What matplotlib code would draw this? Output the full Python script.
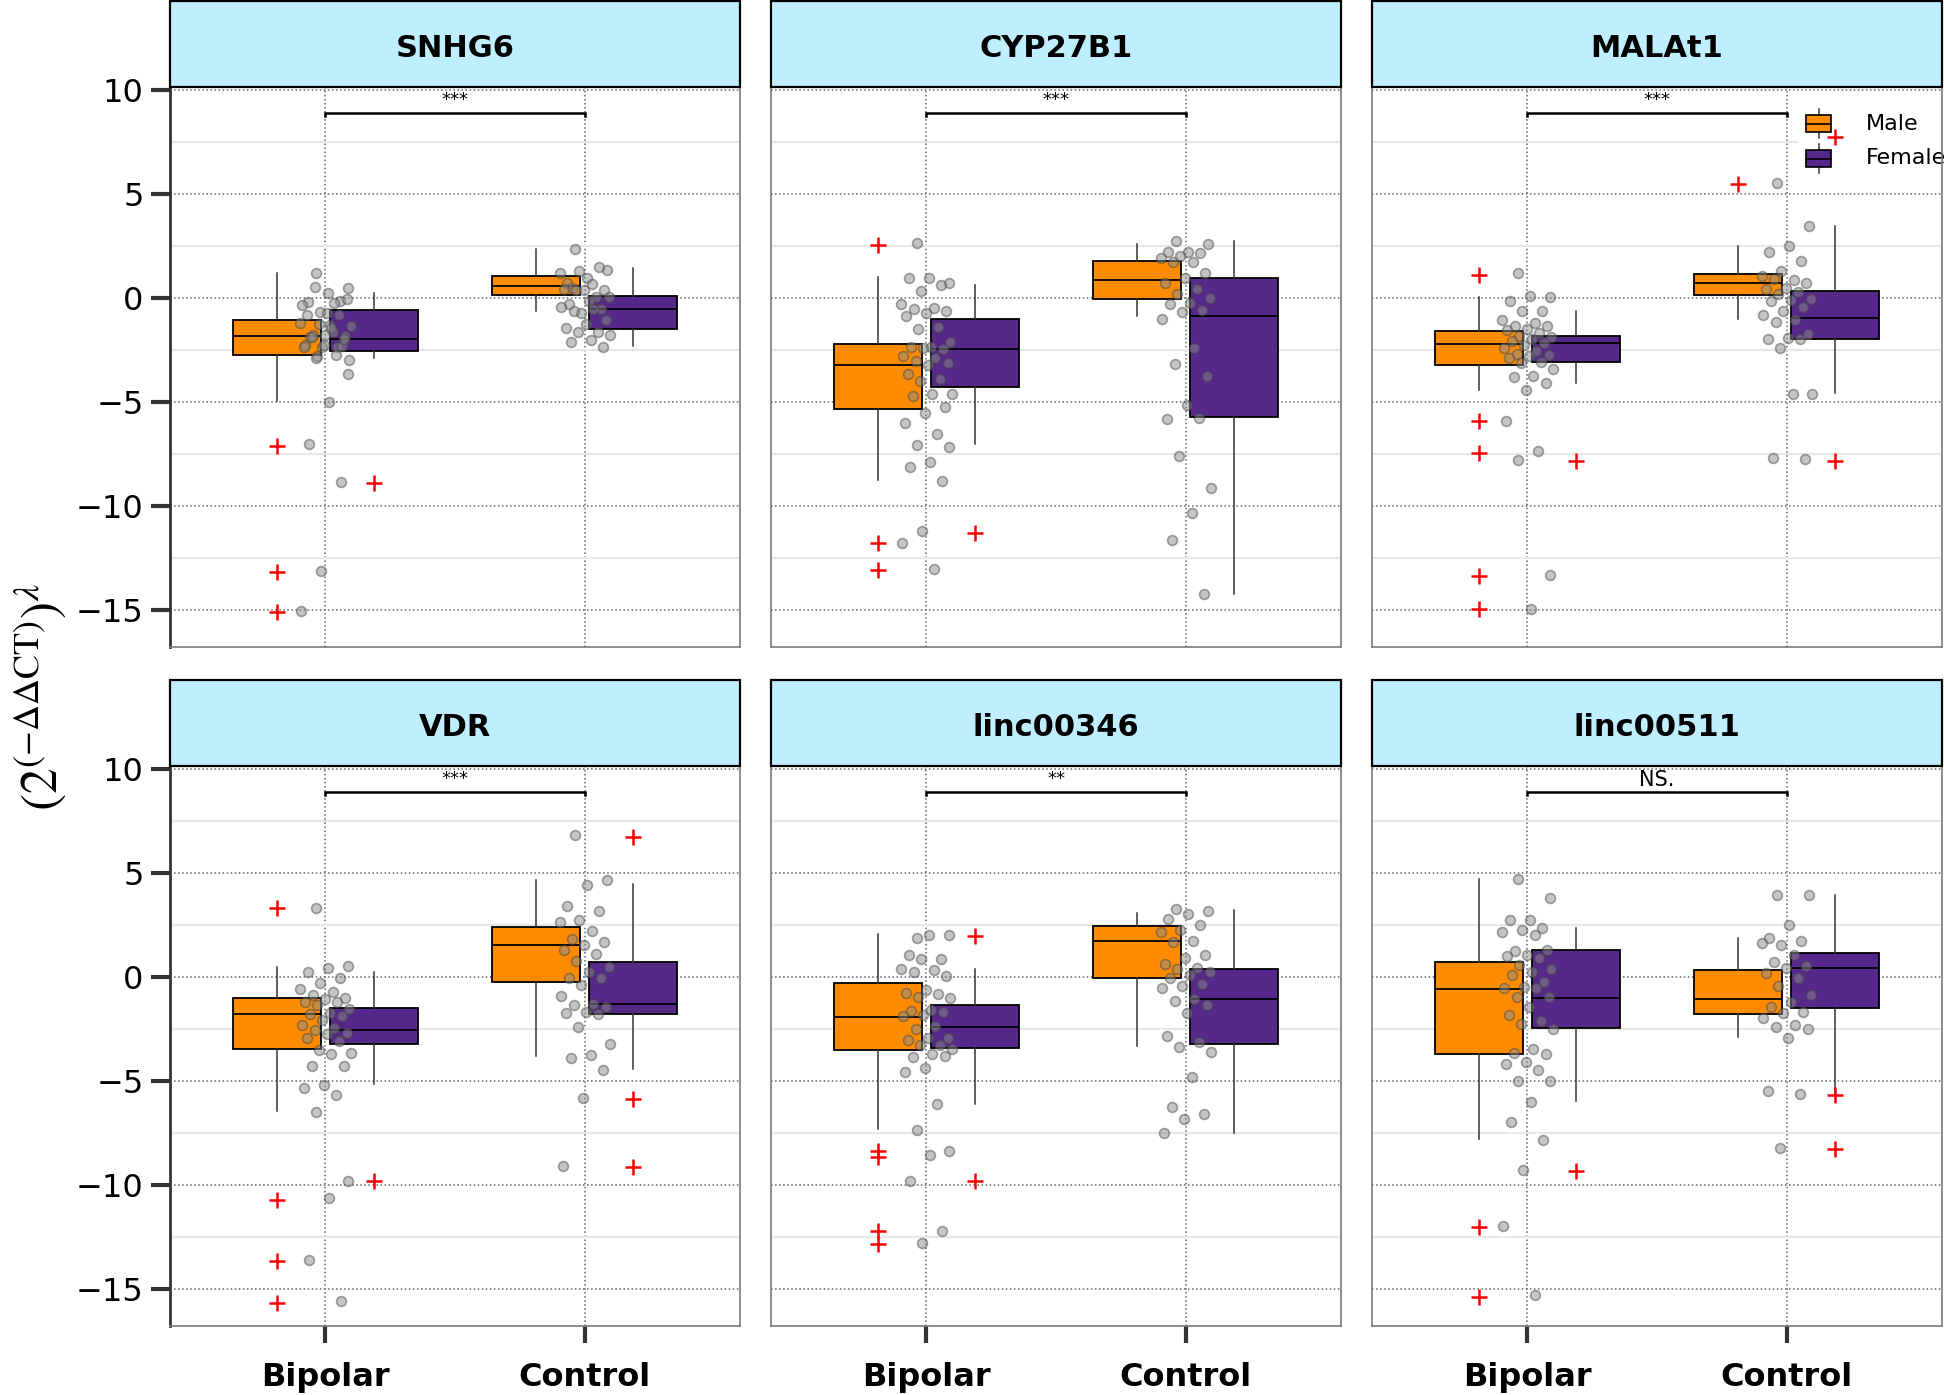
import matplotlib.pyplot as plt
import numpy as np
from matplotlib.patches import Rectangle
from matplotlib.lines import Line2D

# ----------------------------
# Facets and labels
# ----------------------------
genes = ["SNHG6", "CYP27B1", "MALAt1", "VDR", "linc00346", "linc00511"]
signif = ["***", "***", "***", "***", "**", "NS."]
groups = ["Bipolar", "Control"]
sexes = ["Male", "Female"]

# box stats: [whislo, q1, median, q3, whishi]
# order: Bipolar-Male, Bipolar-Female, Control-Male, Control-Female
snhg6_box = [[-4.95, -2.77, -1.82, -1.05, 1.21],
             [-2.91, -2.57, -2.00, -0.59, 0.22],
             [-0.61, 0.12, 0.55, 1.03, 2.36],
             [-2.30, -1.52, -0.55, 0.10, 1.45]]
snhg6_out = [[-7.11, -13.17, -15.11], [-8.89], [], []]
snhg6_bip = [1.21, 0.48, 0.22, -0.20, -0.16, -0.69, -1.21, -1.66, -1.80, -1.82,
             -1.80, -2.26, -2.38, -2.79, -3.01, -1.29, -1.86, -2.32, -2.38, -0.34,
             -0.24, 0.53, -0.08, -0.75, -0.85, -0.85, -1.25, -1.37, -1.45, -1.86,
             -1.96, -2.26, -2.38, -2.77, -2.91, -3.68, -4.99, -7.03, -8.87, -13.11,
             -15.03]
snhg6_ctl = [2.36, 1.35, 0.93, 0.73, 1.47, 1.27, 1.17, 0.65, 0.46, 0.36,
             0.36, 0.40, 0.04, 0.36, 0.04, -0.16, -0.32, -0.55, -0.75, -0.44,
             -0.55, -0.65, -1.05, -1.25, -1.45, -1.66, -1.66, -1.78, -2.02, -2.10,
             -2.34]

cyp_box = [[-8.77, -5.35, -3.25, -2.22, 1.01],
           [-7.03, -4.30, -2.48, -1.01, 0.63],
           [-0.89, -0.08, 0.85, 1.78, 2.59],
           [-14.24, -5.74, -0.89, 0.97, 2.73]]
cyp_out = [[2.55, -11.80, -13.07], [-11.29], [], []]
cyp_bip = [2.63, 0.73, 0.93, 0.97, 0.63, 0.32, -0.32, -0.48, -0.55, -0.61,
           -0.75, -0.89, -1.41, -1.52, -2.10, -2.38, -2.38, -2.46, -2.42, -2.79,
           -2.91, -3.03, -3.11, -3.23, -3.64, -3.88, -3.98, -4.63, -4.63, -4.73,
           -5.25, -5.54, -6.00, -6.55, -7.07, -7.15, -7.88, -8.12, -8.79, -11.21,
           -11.76, -13.03]
cyp_ctl = [2.75, 2.59, 2.18, 2.22, 2.14, 2.02, 1.90, 1.74, 1.74, 1.21,
           0.97, 0.73, 0.40, 0.16, 0.00, -0.24, -0.28, -0.59, -0.69, -1.01,
           -2.42, -3.19, -3.78, -5.13, -5.84, -5.76, -7.58, -9.13, -10.34, -11.62,
           -14.24]

malat_box = [[-4.42, -3.25, -2.22, -1.58, 0.06],
             [-4.08, -3.07, -2.16, -1.82, -0.65],
             [-1.01, 0.12, 0.73, 1.13, 2.48],
             [-4.59, -1.96, -0.95, 0.32, 3.43]]
malat_out = [[1.11, -5.90, -7.45, -13.37, -14.95], [-7.86], [5.49], [7.72, -7.82]]
malat_bip = [1.21, 0.06, 0.10, -0.16, -0.61, -0.65, -1.05, -1.21, -1.35, -1.37,
             -1.49, -1.55, -1.70, -1.82, -1.90, -1.98, -2.06, -2.16, -2.26, -2.42,
             -2.57, -2.71, -2.73, -2.79, -2.87, -3.07, -3.11, -3.43, -3.74, -3.82,
             -4.08, -4.44, -5.90, -7.37, -7.78, -13.33, -14.93]
malat_ctl = [5.52, 3.43, 2.48, 2.18, 1.78, 1.27, 1.03, 0.87, 0.91, 0.73,
             0.48, 0.40, 0.26, 0.16, -0.04, -0.12, -0.16, -0.44, -0.65, -0.81,
             -1.05, -1.15, -1.76, -1.92, -1.96, -1.96, -2.40, -4.63, -4.63, -7.72,
             -7.76]

vdr_box = [[-6.46, -3.45, -1.81, -1.03, 0.45],
           [-5.13, -3.25, -2.54, -1.48, 0.25],
           [-3.80, -0.26, 1.54, 2.40, 4.64],
           [-4.43, -1.77, -1.32, 0.72, 4.44]]
vdr_out = [[3.29, -10.72, -13.66, -15.66], [-9.83], [], [6.74, -5.89, -9.14]]
vdr_bip = [3.31, 0.54, 0.41, 0.21, -0.04, -0.30, -0.57, -0.75, -0.86, -1.01,
           -1.08, -1.19, -1.23, -1.37, -1.54, -1.74, -1.81, -1.90, -2.08, -2.30,
           -2.48, -2.56, -2.70, -2.74, -2.96, -3.07, -3.52, -3.67, -3.72, -4.29,
           -4.29, -5.18, -5.36, -5.67, -6.51, -9.83, -10.65, -13.60, -15.59]
vdr_ctl = [6.83, 4.64, 4.42, 3.42, 3.18, 2.75, 2.64, 2.20, 1.80, 1.65,
           1.51, 1.29, 1.09, 0.74, 0.47, 0.23, -0.04, -0.04, -0.41, -0.92,
           -1.30, -1.37, -1.46, -1.68, -1.74, -1.81, -2.41, -3.23, -3.74, -3.89,
           -4.47, -5.84, -9.10]

l346_box = [[-7.33, -3.52, -1.92, -0.30, 2.07],
            [-6.11, -3.43, -2.39, -1.34, 0.36],
            [-3.34, -0.08, 1.73, 2.44, 3.09],
            [-7.50, -3.25, -1.06, 0.36, 3.22]]
l346_out = [[-8.35, -8.68, -12.22, -12.82], [1.96, -9.83], [], []]
l346_bip = [1.85, 2.02, 2.00, 1.03, 0.85, 0.87, 0.36, 0.32, 0.23, 0.03,
            -0.64, -0.79, -0.81, -0.97, -1.01, -1.59, -1.63, -1.68, -1.85, -1.90,
            -2.36, -2.52, -2.96, -2.96, -3.05, -3.29, -3.29, -3.45, -3.69, -3.85,
            -3.80, -4.40, -4.56, -6.13, -7.35, -8.39, -8.57, -9.79, -12.20, -12.78]
l346_ctl = [3.24, 3.18, 3.02, 2.80, 2.47, 2.24, 2.13, 1.73, 1.65, 1.03,
            0.91, 0.63, 0.41, 0.36, 0.23, 0.07, -0.08, -0.35, -0.46, -0.52,
            -1.08, -1.15, -1.37, -1.74, -2.85, -3.14, -3.36, -3.63, -4.82, -6.24,
            -6.57, -6.84, -7.50]

l511_box = [[-7.79, -3.69, -0.59, 0.69, 4.68],
            [-5.95, -2.47, -1.01, 1.29, 2.36],
            [-2.90, -1.81, -1.06, 0.34, 1.85],
            [-5.58, -1.52, 0.41, 1.16, 3.91]]
l511_out = [[-12.00, -15.37], [-9.34], [], [-5.69, -8.28]]
l511_bip = [4.68, 3.77, 2.75, 2.75, 2.36, 2.24, 2.13, 2.02, 1.25, 1.29,
            1.07, 0.98, 0.91, 0.58, 0.36, 0.25, 0.07, -0.26, -0.48, -0.52,
            -0.52, -0.97, -0.97, -1.46, -1.85, -2.12, -2.25, -2.52, -3.45, -3.67,
            -3.69, -4.11, -4.18, -4.47, -5.02, -5.02, -6.00, -7.00, -7.84, -9.28,
            -11.98, -15.30]
l511_ctl = [3.95, 3.95, 2.47, 1.85, 1.73, 1.51, 1.62, 1.03, 0.72, 0.54,
            0.41, 0.18, -0.04, -0.46, -0.86, -1.19, -1.46, -1.68, -1.74, -1.96,
            -2.30, -2.41, -2.52, -2.92, -5.51, -5.62, -8.24]

panel_data = [
    (snhg6_box, snhg6_out, snhg6_bip, snhg6_ctl),
    (cyp_box, cyp_out, cyp_bip, cyp_ctl),
    (malat_box, malat_out, malat_bip, malat_ctl),
    (vdr_box, vdr_out, vdr_bip, vdr_ctl),
    (l346_box, l346_out, l346_bip, l346_ctl),
    (l511_box, l511_out, l511_bip, l511_ctl),
]

# ----------------------------
# Style
# ----------------------------
plt.rcParams.update({
    "font.family": ["DejaVu Sans"],
    "mathtext.fontset": "stix",
})

ORANGE = "#FF8C00"
PURPLE = "#55288A"
STRIP = "#BFEFFF"
W, H = 1944, 1395

fig = plt.figure(figsize=(W / 100, H / 100), dpi=100)

col_left = [170, 771, 1372]
col_w = 570
row_top = [87, 766]
row_h = 560
strip_h = 86 / row_h


def jitter(n, width=0.1):
    k = np.arange(n)
    return width * (2 * ((k * 0.6180339887 + 0.31) % 1.0) - 1)


def draw_panel(ax, box, out, pts_b, pts_c, title, sig, row, col):
    positions = [1 - 0.1875, 1 + 0.1875, 2 - 0.1875, 2 + 0.1875]
    stats = []
    for s, o in zip(box, out):
        stats.append(dict(whislo=s[0], q1=s[1], med=s[2], q3=s[3], whishi=s[4], fliers=o))
    bp = ax.bxp(stats, positions=positions, widths=0.3375, patch_artist=True,
                showcaps=False, manage_ticks=False,
                boxprops=dict(edgecolor="black", linewidth=1.3),
                medianprops=dict(color="black", linewidth=1.3),
                whiskerprops=dict(color="#333333", linewidth=1.1),
                flierprops=dict(marker="+", markeredgecolor="red", markersize=11,
                                markeredgewidth=1.8, linestyle="none"),
                zorder=2)
    for patch, c in zip(bp["boxes"], [ORANGE, PURPLE, ORANGE, PURPLE]):
        patch.set_facecolor(c)

    for xc, pts in [(1, pts_b), (2, pts_c)]:
        pts = np.asarray(pts)
        ax.scatter(xc + jitter(len(pts)), pts, s=50, facecolor="#8c8c8c",
                   edgecolor="#4a4a4a", linewidths=1.2, alpha=0.5, zorder=3)

    # significance bracket
    ax.plot([1, 1, 2, 2], [8.72, 8.9, 8.9, 8.72], color="black", lw=1.8,
            zorder=4, solid_joinstyle="miter")
    if sig == "NS.":
        ax.text(1.5, 9.45, sig, ha="center", va="center", fontsize=15)
    else:
        ax.text(1.5, 9.5, sig, ha="center", va="center", fontsize=13)

    ax.set_xlim(0.4, 2.6)
    ax.set_ylim(-16.78, 10.13)
    ax.set_xticks([1, 2])
    ax.set_yticks([-15, -10, -5, 0, 5, 10])
    ax.set_yticks([-12.5, -7.5, -2.5, 2.5, 7.5], minor=True)
    ax.set_axisbelow(True)
    ax.grid(True, which="major", linestyle=":", color="#666666", lw=1.1)
    ax.yaxis.grid(True, which="minor", linestyle="-", color="#e8e8e8", lw=1.6)
    ax.tick_params(which="minor", length=0)
    for sp in ax.spines.values():
        sp.set_color("#7a7a7a")
        sp.set_linewidth(1.2)

    if col == 0:
        ax.spines["left"].set_color("#333333")
        ax.spines["left"].set_linewidth(2.0)
        ax.tick_params(axis="y", which="major", length=14, width=3, color="#333333",
                       labelsize=23, pad=5)
    else:
        ax.tick_params(axis="y", which="major", length=0, labelleft=False)
    if row == 1:
        ax.set_xticklabels(groups, fontsize=23, fontweight="bold")
        ax.tick_params(axis="x", which="major", length=12, width=3, color="#333333",
                       pad=14)
    else:
        ax.tick_params(axis="x", which="major", length=0, labelbottom=False)

    # facet strip
    ax.add_patch(Rectangle((0, 1), 1, strip_h, transform=ax.transAxes, clip_on=False,
                           facecolor=STRIP, edgecolor="black", linewidth=1.6, zorder=5))
    ax.text(0.5, 1 + strip_h * 0.45, title, transform=ax.transAxes, ha="center",
            va="center", fontsize=22, fontweight="bold", zorder=6)


axes = []
for i, gene in enumerate(genes):
    row, col = divmod(i, 3)
    left = col_left[col] / W
    bottom = 1 - (row_top[row] + row_h) / H
    ax = fig.add_axes([left, bottom, col_w / W, row_h / H])
    box, out, pts_b, pts_c = panel_data[i]
    draw_panel(ax, box, out, pts_b, pts_c, gene, signif[i], row, col)
    axes.append(ax)

# legend (drawn by hand in the MALAt1 panel)
lax = axes[2]
tf = fig.transFigure


def fx(px):
    return px / W


def fy(py):
    return 1 - py / H


lax.add_patch(Rectangle((fx(1798), fy(178)), fx(1944) - fx(1798), (178 - 105) / H,
                        transform=tf, clip_on=False, facecolor="white",
                        edgecolor="none", zorder=1.5))
for (ytop, ybot), c, name in zip([(115, 132), (150, 167)], [ORANGE, PURPLE], sexes):
    xc = 1818.5
    lax.add_line(Line2D([fx(xc), fx(xc)], [fy(ytop - 6), fy(ybot + 6)], transform=tf,
                        color="#333333", lw=1.1, clip_on=False, zorder=1.6))
    lax.add_patch(Rectangle((fx(1806), fy(ybot)), fx(1831) - fx(1806), (ybot - ytop) / H,
                            transform=tf, clip_on=False, facecolor=c,
                            edgecolor="black", linewidth=1.2, zorder=1.7))
    ym = (ytop + ybot) / 2
    lax.add_line(Line2D([fx(1806), fx(1831)], [fy(ym), fy(ym)], transform=tf,
                        color="black", lw=1.2, clip_on=False, zorder=1.8))
    lax.text(fx(1866), fy(ym), name, transform=tf, ha="left", va="center",
             fontsize=16, zorder=1.9, clip_on=False)

fig.text(0.021, 0.5, r"$\left(2^{\left(-\Delta\Delta \mathrm{CT}\right)}\right)^{\lambda}$",
         rotation=90, ha="center", va="center", fontsize=37)

plt.savefig("out.png", dpi=100)
